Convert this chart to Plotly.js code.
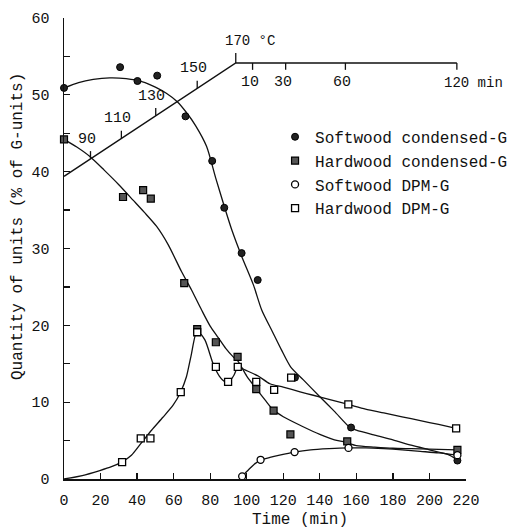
<!DOCTYPE html>
<html>
<head>
<meta charset="utf-8">
<script src="https://cdn.plot.ly/plotly-3.0.1.min.js"></script>
<style>html,body{margin:0;padding:0;background:#fff;}#chart{width:509px;height:528px;}</style>
</head>
<body>
<div id="chart"></div>
<script>
// ---- measured points ----
const swCondX = [0, 30.7, 40.2, 51, 66.5, 81.1, 87.7, 97.2, 106, 126.4, 157.1, 215.3];
const swCondY = [50.9, 53.6, 51.8, 52.5, 47.2, 41.4, 35.3, 29.4, 25.9, 13.2, 6.7, 2.4];

const hwCondX = [0, 32.3, 43.3, 47.5, 65.8, 72.9, 83.1, 95, 105.2, 114.7, 123.9, 155, 215.3];
const hwCondY = [44.2, 36.7, 37.6, 36.5, 25.5, 19.5, 17.8, 15.9, 11.7, 8.9, 5.8, 4.9, 3.8];

const swDpmX = [97.5, 107.6, 126.2, 155.7, 215.3];
const swDpmY = [0.35, 2.5, 3.5, 4.05, 3.1];

const hwDpmX = [31.8, 42, 47.3, 63.9, 72.9, 83.1, 89.8, 95.1, 105.2, 115, 124.3, 155.6, 214.6];
const hwDpmY = [2.2, 5.3, 5.3, 11.3, 19.1, 14.6, 12.65, 14.6, 12.65, 11.6, 13.2, 9.7, 6.6];

// ---- hand-drawn fitted curves ----
const swCondCurveX = [0, 8, 16, 25, 34, 43, 50, 56, 62, 67, 72, 78, 83, 87.7, 92, 97.2, 103.6, 108.2, 114, 119, 124, 131, 140, 148, 156.5, 160, 170, 180, 190, 200, 210, 215.3];
const swCondCurveY = [50.9, 51.6, 52.0, 52.2, 52.1, 51.7, 51.0, 50.2, 49.1, 47.7, 46.0, 43.3, 39.2, 35.5, 32.3, 29.0, 25.3, 22.0, 19.2, 16.8, 14.6, 12.9, 10.7, 8.8, 6.7, 6.35, 5.7, 5.1, 4.4, 3.8, 3.2, 2.5];

const hwCondCurveX = [0, 7, 14, 22, 30, 37.8, 44, 50.6, 57, 64.3, 69.8, 75.3, 80, 84.4, 88.5, 92.6, 95, 100, 105.4, 110, 114.5, 120, 130, 140, 148, 154, 160, 170, 180, 190, 200, 215.3];
const hwCondCurveY = [44.2, 43.2, 42.0, 40.2, 38.3, 36.3, 34.7, 32.9, 30.5, 27.0, 24.6, 22.0, 19.9, 18.4, 17.0, 15.9, 15.4, 13.4, 11.7, 10.3, 9.0, 8.1, 6.9, 5.8, 5.1, 4.8, 4.35, 4.15, 4.0, 3.95, 3.9, 3.8];

const swDpmCurveX = [97.5, 101, 104, 107.6, 112.7, 118, 126, 135, 145, 155.6, 165, 175, 185, 195, 205, 215.3];
const swDpmCurveY = [0.35, 1.2, 1.9, 2.45, 2.8, 3.1, 3.5, 3.8, 3.95, 4.05, 4.05, 3.95, 3.8, 3.6, 3.4, 3.1];

const hwDpmCurveX = [0, 10, 19.6, 26, 31.5, 36.9, 42, 47.9, 54, 59.7, 63.8, 67, 69.5, 72.9, 77.1, 81.6, 85, 88, 90.5, 93, 95.3, 99, 106.3, 112.7, 120, 129.2, 136.4, 145, 155.6, 165, 175, 185, 195, 205, 214.6];
const hwDpmCurveY = [0, 0.45, 1.1, 1.6, 2.2, 3.1, 4.6, 6.35, 8.0, 9.6, 11.3, 13.3, 16.0, 19.3, 18.1, 15.0, 13.4, 12.7, 12.7, 13.5, 14.6, 14.2, 13.4, 12.4, 11.95, 11.35, 10.9, 10.35, 9.7, 9.1, 8.6, 8.1, 7.6, 7.1, 6.6];

// ---- temperature / time programme line ----
const progX = [0, 94, 215];
const progY = [39.4, 54.15, 54.15];
const tempTickX = [14.5, 31.4, 50.2, 72.9, 94];
const tempTickLabels = ['90', '110', '130', '150', '170 °C'];
const timeTickX = [103.2, 121.3, 154, 215];
const timeTickLabels = ['10', '30', '60', '120 min'];

// ---- axis tick labels ----
const yTickVals = [0, 5, 10, 15, 20, 25, 30, 35, 40, 45, 50, 55, 60];
const yTickText = ['0', '', '10', '', '20', '', '30', '', '40', '', '50', '', '60'];
const xTickVals = [0, 20, 40, 60, 80, 100, 120, 140, 160, 180, 200, 220];

const legendNames = ['Softwood condensed-G', 'Hardwood condensed-G', 'Softwood DPM-G', 'Hardwood DPM-G'];

const FONT = 'Liberation Mono, DejaVu Sans Mono, monospace';
const lineStyle = {color: '#111', width: 1.3, shape: 'spline', smoothing: 0.7};

function progYAt(x) {
  for (let i = 0; i < progX.length - 1; i++) {
    if (x >= progX[i] && x <= progX[i + 1]) {
      const t = (x - progX[i]) / (progX[i + 1] - progX[i]);
      return progY[i] + t * (progY[i + 1] - progY[i]);
    }
  }
  return progY[progY.length - 1];
}

const traces = [
  {x: swCondCurveX, y: swCondCurveY, mode: 'lines', line: lineStyle, showlegend: false, hoverinfo: 'skip'},
  {x: hwCondCurveX, y: hwCondCurveY, mode: 'lines', line: lineStyle, showlegend: false, hoverinfo: 'skip'},
  {x: swDpmCurveX, y: swDpmCurveY, mode: 'lines', line: lineStyle, showlegend: false, hoverinfo: 'skip'},
  {x: hwDpmCurveX, y: hwDpmCurveY, mode: 'lines', line: lineStyle, showlegend: false, hoverinfo: 'skip'},
  {x: progX, y: progY, mode: 'lines', line: {color: '#111', width: 1.5}, showlegend: false, hoverinfo: 'skip'},
  {x: swCondX, y: swCondY, mode: 'markers', name: legendNames[0], cliponaxis: false,
   marker: {symbol: 'circle', size: 7, color: '#222', line: {color: '#000', width: 1}}},
  {x: hwCondX, y: hwCondY, mode: 'markers', name: legendNames[1], cliponaxis: false,
   marker: {symbol: 'square', size: 7, color: '#555', line: {color: '#000', width: 1.2}}},
  {x: swDpmX, y: swDpmY, mode: 'markers', name: legendNames[2], cliponaxis: false,
   marker: {symbol: 'circle', size: 7, color: '#fff', line: {color: '#000', width: 1.3}}},
  {x: hwDpmX, y: hwDpmY, mode: 'markers', name: legendNames[3], cliponaxis: false,
   marker: {symbol: 'square', size: 7, color: '#fff', line: {color: '#000', width: 1.3}}}
];

const shapes = [];
const annotations = [];
tempTickX.forEach((tx, i) => {
  const y0 = progYAt(tx);
  const last = i === tempTickX.length - 1;
  const tickLen = last ? 1.3 : 1.0;
  shapes.push({type: 'line', xref: 'x', yref: 'y', x0: tx, x1: tx, y0: y0, y1: y0 + tickLen, line: {color: '#111', width: 1.3}});
  annotations.push({x: tx, y: y0 + tickLen, xref: 'x', yref: 'y', text: tempTickLabels[i], showarrow: false,
    xanchor: last ? 'left' : 'center', yanchor: 'middle', xshift: last ? -13 : -4, yshift: 12,
    font: {family: FONT, size: last ? 14 : 15, color: '#111'}});
});
timeTickX.forEach((tx, i) => {
  const y0 = progYAt(tx);
  const last = i === timeTickX.length - 1;
  shapes.push({type: 'line', xref: 'x', yref: 'y', x0: tx, x1: tx, y0: y0, y1: y0 - 0.9, line: {color: '#111', width: 1.3}});
  annotations.push({x: tx, y: y0, xref: 'x', yref: 'y', text: timeTickLabels[i], showarrow: false,
    xanchor: last ? 'left' : 'center', yanchor: 'middle', xshift: last ? -15 : -3, yshift: -20,
    font: {family: FONT, size: last ? 14 : 15, color: '#111'}});
});

annotations.push({xref: 'paper', yref: 'paper', x: -0.114, y: 0.547, text: 'Quantity of units (% of G-units)',
  textangle: -90, showarrow: false, xanchor: 'center', yanchor: 'middle', font: {family: FONT, size: 16, color: '#111'}});
annotations.push({xref: 'paper', yref: 'paper', x: 0.588, y: -0.089, text: 'Time (min)',
  showarrow: false, xanchor: 'center', yanchor: 'middle', font: {family: FONT, size: 16, color: '#111'}});

const layout = {
  width: 509, height: 528,
  margin: {l: 64, r: 43, t: 18, b: 49, autoexpand: false},
  paper_bgcolor: '#fff', plot_bgcolor: '#fff',
  font: {family: FONT, size: 15, color: '#111'},
  showlegend: true,
  legend: {x: 0.525, y: 0.779, xanchor: 'left', yanchor: 'top', bgcolor: 'rgba(0,0,0,0)',
    font: {family: FONT, size: 16, color: '#111'}, itemwidth: 30},
  xaxis: {range: [0, 220], showgrid: false, zeroline: false, showline: true, linecolor: '#111', linewidth: 1.5,
    ticks: 'inside', ticklen: 6, tickwidth: 1.3, tickcolor: '#111', tickvals: xTickVals, automargin: false,
    ticklabelstandoff: 6, tickfont: {family: FONT, size: 15, color: '#111'}, mirror: false},
  yaxis: {range: [0, 60], showgrid: false, zeroline: false, showline: true, linecolor: '#111', linewidth: 1.5,
    ticks: 'inside', ticklen: 6, tickwidth: 1.3, tickcolor: '#111', tickvals: yTickVals, ticktext: yTickText, automargin: false,
    ticklabelstandoff: 10, tickfont: {family: FONT, size: 15, color: '#111'}, mirror: false},
  shapes: shapes,
  annotations: annotations
};

Plotly.newPlot('chart', traces, layout, {displayModeBar: false, staticPlot: true});
</script>
</body>
</html>
